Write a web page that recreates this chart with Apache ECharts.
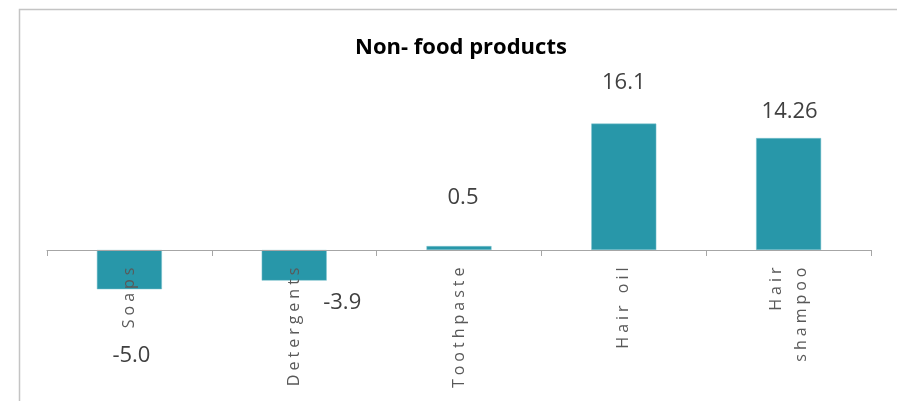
<!DOCTYPE html>
<html>
<head>
<meta charset="utf-8">
<script src="https://cdn.jsdelivr.net/npm/echarts@6/dist/echarts.min.js"></script>
<style>
  html, body { margin: 0; padding: 0; background: #ffffff; }
  #chart { width: 897px; height: 401px; }
</style>
</head>
<body>
<div id="chart"></div>
<script>
const titleText = 'Non- food products';
const categories = ['Soaps', 'Detergents', 'Toothpaste', 'Hair oil', 'Hair\nshampoo'];
const values = [-5.0, -3.9, 0.5, 16.1, 14.26];
const valueLabels = ['-5.0', '-3.9', '0.5', '16.1', '14.26'];

// label placement (style, not data)
const labelOffsets = [[2, 86], [48, 37], [4, -50], [0, -104], [1, -82]];

// spaced-out category labels (as in the reference) via canvas letterSpacing
const AXIS_LABEL_COLOR = '#595959';
(function () {
  const proto = CanvasRenderingContext2D.prototype;
  const origFill = proto.fillText;
  proto.fillText = function () {
    const spaced = String(this.fillStyle).toLowerCase() === AXIS_LABEL_COLOR;
    if ('letterSpacing' in this) this.letterSpacing = spaced ? '4px' : '0px';
    const r = origFill.apply(this, arguments);
    if ('letterSpacing' in this) this.letterSpacing = '0px';
    return r;
  };
})();

const chart = echarts.init(document.getElementById('chart'), null, { renderer: 'canvas' });
chart.setOption({
  animation: false,
  backgroundColor: '#ffffff',
  graphic: [{
    type: 'rect',
    left: 17, top: 7,
    shape: { width: 920, height: 440 },
    style: { fill: 'none', stroke: '#c4c4c4', lineWidth: 1.5 },
    silent: true
  }],
  title: {
    text: titleText,
    left: 350, top: 32,
    textStyle: { fontFamily: 'Open Sans', fontWeight: 'bold', fontSize: 22, color: '#000000' }
  },
  grid: { left: 47, right: 26, top: 93, bottom: 72.5, containLabel: false, outerBoundsMode: 'none' },
  xAxis: {
    type: 'category',
    data: categories,
    z: 5,
    axisLine: { onZero: true, lineStyle: { color: '#a6a6a6', width: 1 } },
    axisTick: { show: true, alignWithLabel: false, length: 6, lineStyle: { color: '#a6a6a6' } },
    axisLabel: {
      interval: 0, rotate: 90, margin: -65,
      fontFamily: 'Open Sans', fontSize: 16, color: AXIS_LABEL_COLOR, lineHeight: 25
    },
    splitLine: { show: false }
  },
  yAxis: {
    type: 'value', min: -10, max: 20, interval: 5,
    show: false,
    splitLine: { show: false }
  },
  series: [{
    type: 'bar',
    barWidth: 65,
    data: values.map((v, i) => ({
      value: v,
      label: { offset: labelOffsets[i] }
    })),
    itemStyle: { color: '#2897a9', borderColor: '#7cc3cf', borderWidth: 0.5 },
    label: {
      show: true,
      position: 'inside',
      formatter: p => valueLabels[p.dataIndex],
      fontFamily: 'Open Sans', fontSize: 22, color: '#404040'
    }
  }]
});
</script>
</body>
</html>
